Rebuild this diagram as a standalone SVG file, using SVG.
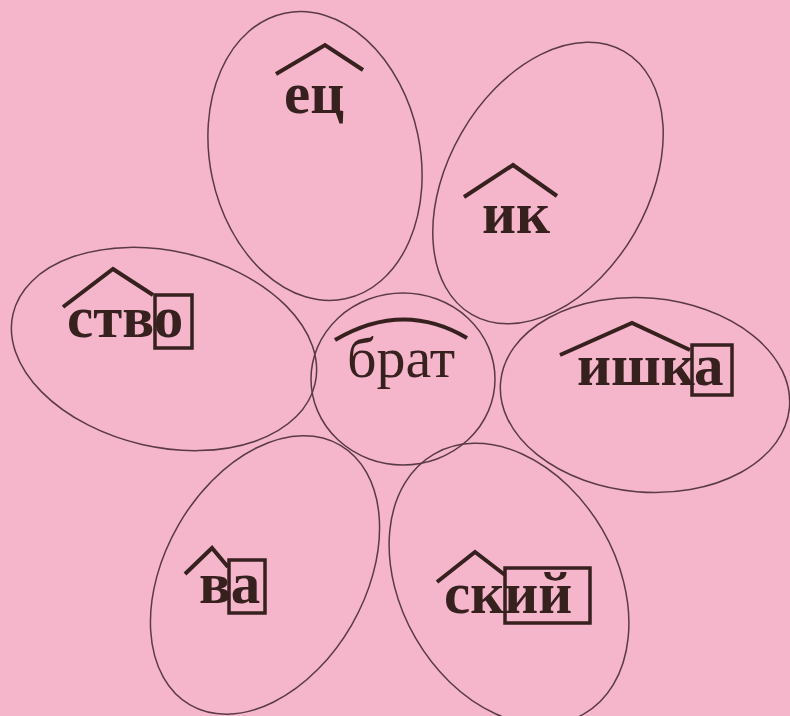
<svg xmlns="http://www.w3.org/2000/svg" width="790" height="716" viewBox="0 0 790 716">
<style>
.petal{fill:none;stroke:#5a3a44;stroke-width:1.5}
.w{font-family:"Liberation Serif","Times New Roman",serif;font-weight:bold;font-size:59px;fill:#37211f}
.r{font-family:"Liberation Serif","Times New Roman",serif;font-size:58px;fill:#37211f}
.mk{fill:none;stroke:#37211f;stroke-width:4;stroke-linejoin:miter}
.bx{fill:none;stroke:#37211f;stroke-width:3.5}
</style>
<rect width="790" height="716" fill="#f5b6cc"/>
<g id="petal-ets">
<ellipse class="petal" cx="315" cy="156" rx="105" ry="146" transform="rotate(-12 315 156)"/>
<polyline class="mk" points="276,74 325,45 363,70"/>
<text class="w" x="284" y="113">ец</text>
</g>
<g id="petal-ik">
<ellipse class="petal" cx="548" cy="183" rx="100" ry="152" transform="rotate(30 548 183)"/>
<polyline class="mk" points="464,197 513,165 557,196"/>
<text class="w" x="482" y="233">ик</text>
</g>
<g id="petal-stvo">
<ellipse class="petal" cx="164" cy="349" rx="155" ry="98" transform="rotate(13 164 349)"/>
<polyline class="mk" points="63,307 113,269 153,295"/>
<text class="w" x="67" y="337">ство</text>
<rect class="bx" x="155" y="295" width="37" height="53"/>
</g>
<g id="center-brat">
<ellipse class="petal" cx="403" cy="379" rx="92" ry="86"/>
<path class="mk" d="M335,340 Q403,300 467,338"/>
<text class="r" x="347" y="377">брат</text>
</g>
<g id="petal-ishka">
<ellipse class="petal" cx="645" cy="395" rx="145" ry="97" transform="rotate(5 645 395)"/>
<polyline class="mk" points="560,355 632,323 690,350"/>
<text class="w" x="577" y="385">ишка</text>
<rect class="bx" x="692" y="345" width="40" height="50"/>
</g>
<g id="petal-va">
<ellipse class="petal" cx="265" cy="575" rx="100" ry="150" transform="rotate(30 265 575)"/>
<polyline class="mk" points="185,574 212,548 228,567"/>
<text class="w" x="199" y="603">ва</text>
<rect class="bx" x="229" y="560" width="36" height="53"/>
</g>
<g id="petal-skiy">
<ellipse class="petal" cx="509" cy="584" rx="108" ry="150" transform="rotate(-30 509 584)"/>
<polyline class="mk" points="437,582 475,552 505,575"/>
<text class="w" x="444" y="613">ский</text>
<rect class="bx" x="505" y="568" width="85" height="55"/>
</g>
<g id="connectors"/>
</svg>
